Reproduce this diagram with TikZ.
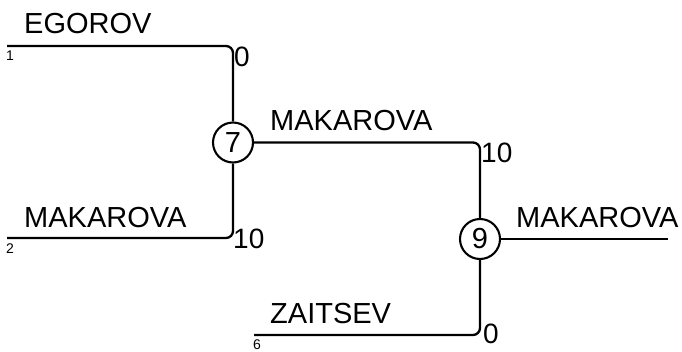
\documentclass[tikz,border=0pt]{standalone}
\usepackage{fontspec}
\setmainfont{Liberation Sans}
\begin{document}
\begin{tikzpicture}[x=1pt,y=-1pt,
  conn/.style={line width=2.3pt, rounded corners=7pt},
  junction/.style={circle, draw, line width=2.1pt, minimum size=40pt, inner sep=0pt, font=\fontsize{29}{29}\selectfont},
  namelabel/.style={anchor=base west, inner sep=0pt, font=\fontsize{29}{29}\selectfont},
  scorelabel/.style={anchor=base west, inner sep=0pt, font=\fontsize{28}{28}\selectfont},
  seedlabel/.style={anchor=base west, inner sep=0pt, font=\fontsize{14}{14}\selectfont}]
\useasboundingbox (0,0) rectangle (682,351);
\node[junction] (j7) at (233,142.5) {7};
\node[junction] (j9) at (480,239) {9};
\coordinate (s1) at (7,46);
\coordinate (s2) at (7,238);
\coordinate (s6) at (254,335);
\coordinate (out) at (668,239);
\draw[conn] (s1) -| (j7);
\draw[conn] (s2) -| (j7);
\draw[conn] (j7) -| (j9);
\draw[conn] (s6) -| (j9);
\draw[conn] (j9) -- (out);
\node[namelabel] (n1) at (24,33) {EGOROV};
\node[namelabel] (n2) at (24,227) {MAKAROVA};
\node[namelabel] (n7) at (270,130) {MAKAROVA};
\node[namelabel] (n6) at (270,323) {ZAITSEV};
\node[namelabel] (n9) at (516,227) {MAKAROVA};
\node[seedlabel] (d1) at (6,60) {1};
\node[seedlabel] (d2) at (6,253) {2};
\node[seedlabel] (d6) at (253,349.5) {6};
\node[scorelabel] (sc1) at (234,66) {0};
\node[scorelabel] (sc2) at (233,248) {10};
\node[scorelabel] (sc7) at (481,162) {10};
\node[scorelabel] (sc6) at (483,343) {0};
\end{tikzpicture}
\end{document}
